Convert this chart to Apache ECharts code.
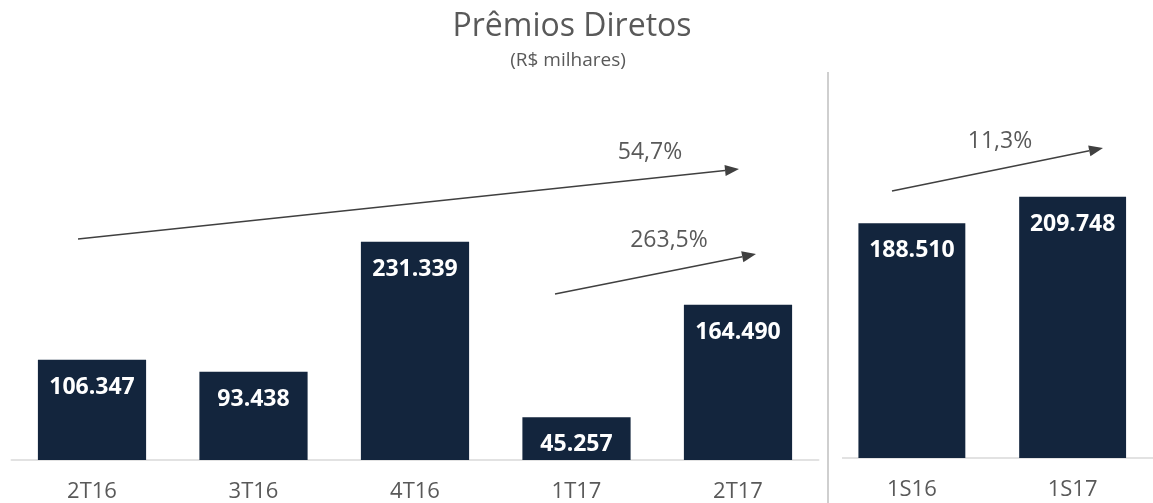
<!DOCTYPE html>
<html><head><meta charset="utf-8">
<script src="https://cdn.jsdelivr.net/npm/echarts@6/dist/echarts.min.js"></script>
<style>html,body{margin:0;padding:0;background:#fff}#c{width:1153px;height:503px}</style>
</head><body><div id="c"></div>
<script>
var quarterCategories = ['2T16','3T16','4T16','1T17','2T17'];
var quarterValues = [106.347, 93.438, 231.339, 45.257, 164.490];
var semesterCategories = ['1S16','1S17'];
var semesterValues = [188.510, 209.748];
var growthLabels = ['54,7%','263,5%','11,3%'];
var titleText = 'Prêmios Diretos';
var subtitleText = '(R$ milhares)';

var FONT = '"Open Sans", sans-serif';
var BAR = '#13253d';
var GRAY = '#595959';
var ARROW = '#404040';

function arrow(x1,y1,x2,y2){
  var a = Math.atan2(y2-y1,x2-x1), L=14, W=5.5;
  var bx = x2 - L*Math.cos(a), by = y2 - L*Math.sin(a);
  var px = -Math.sin(a)*W, py = Math.cos(a)*W;
  return [
    {type:'line',shape:{x1:x1,y1:y1,x2:bx,y2:by},style:{stroke:ARROW,lineWidth:1.6}},
    {type:'polygon',shape:{points:[[x2,y2],[bx+px,by+py],[bx-px,by-py]]},style:{fill:ARROW}}
  ];
}
function pct(text,x,y){
  return {type:'text',x:x,y:y,style:{text:text,fill:GRAY,font:'23px '+FONT,textAlign:'center',textVerticalAlign:'middle'}};
}

var graphics = [
  {type:'text',x:572,y:27,style:{text:titleText,fill:GRAY,font:'32px '+FONT,textAlign:'center',textVerticalAlign:'middle'}},
  {type:'text',x:568,y:61,style:{text:subtitleText,fill:GRAY,font:'19px '+FONT,textAlign:'center',textVerticalAlign:'middle'}},
  {type:'line',shape:{x1:828,y1:72,x2:828,y2:503},style:{stroke:'#bfbfbf',lineWidth:1.5}},
  {type:'line',shape:{x1:842,y1:458,x2:1153,y2:458},style:{stroke:'#d9d9d9',lineWidth:1.5}},
  pct(growthLabels[0],650,152),
  pct(growthLabels[1],669,240),
  pct(growthLabels[2],1000,141)
].concat(arrow(78,239,739,169)).concat(arrow(555,294,756,254)).concat(arrow(892,191,1103,148));

var labelStyle = {show:true,position:'insideTop',distance:16,color:'#fff',fontFamily:FONT,fontWeight:'bold',fontSize:23,
  formatter:function(p){return p.value.toFixed(3);}};
var axisLabelStyle = {color:GRAY,fontFamily:FONT,fontSize:22,margin:21};

var chart = echarts.init(document.getElementById('c'),null,{renderer:'canvas'});
chart.setOption({
  animation:false,
  backgroundColor:'#fff',
  grid:[
    {left:11.25,width:807.5,top:177,height:284},
    {left:831.5,width:340,top:84.5,height:373.5}
  ],
  xAxis:[
    {type:'category',gridIndex:0,data:quarterCategories,axisTick:{show:false},
     axisLine:{lineStyle:{color:'#d9d9d9',width:1.5}},axisLabel:axisLabelStyle},
    {type:'category',gridIndex:1,data:semesterCategories,axisTick:{show:false},
     axisLine:{show:false},axisLabel:axisLabelStyle}
  ],
  yAxis:[
    {type:'value',gridIndex:0,min:0,max:300,show:false,splitLine:{show:false}},
    {type:'value',gridIndex:1,min:0,max:300,show:false,splitLine:{show:false}}
  ],
  series:[
    {type:'bar',xAxisIndex:0,yAxisIndex:0,data:quarterValues,barWidth:'67%',itemStyle:{color:BAR},label:labelStyle},
    {type:'bar',xAxisIndex:1,yAxisIndex:1,data:semesterValues,barWidth:'66.5%',itemStyle:{color:BAR},label:labelStyle}
  ],
  graphic:graphics
});
</script></body></html>
